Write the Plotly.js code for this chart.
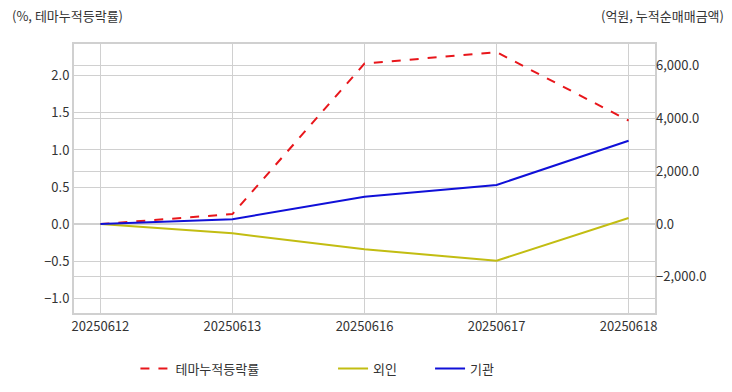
<!DOCTYPE html>
<html>
<head>
<meta charset="utf-8">
<script src="https://cdn.plot.ly/plotly-3.0.1.min.js"></script>
<style>html,body{margin:0;padding:0;background:#fff;}#chart{width:732px;height:392px;}</style>
</head>
<body>
<div id="chart"></div>
<script>
const dates = ['20250612', '20250613', '20250616', '20250617', '20250618'];
const themeRate = [0.0, 0.135, 2.166, 2.32, 1.396];
const foreign = [0, -353, -960, -1393, 228];
const institution = [0, 178, 1036, 1480, 3161];

const FONT = '"Noto Sans CJK KR", "Noto Sans", sans-serif';

const traces = [
  {x: dates, y: themeRate, name: '테마누적등락률', type: 'scatter', mode: 'lines',
   line: {color: '#e8161b', width: 2, dash: 'dash'}, yaxis: 'y', legend: 'legend'},
  {x: dates, y: foreign, name: '외인', type: 'scatter', mode: 'lines',
   line: {color: '#c2bd12', width: 2}, yaxis: 'y2', legend: 'legend2'},
  {x: dates, y: institution, name: '기관', type: 'scatter', mode: 'lines',
   line: {color: '#1010d8', width: 2}, yaxis: 'y2', legend: 'legend2'}
];

const layout = {
  width: 732, height: 392,
  margin: {l: 74, r: 77, t: 44, b: 79},
  paper_bgcolor: '#fff', plot_bgcolor: '#fff',
  font: {family: FONT, size: 13, color: '#333'},
  showlegend: true,
  xaxis: {
    type: 'category', range: [-0.2, 4.2],
    showgrid: true, gridcolor: '#d0d0d0', gridwidth: 1,
    showline: true, linecolor: '#d0d0d0', linewidth: 2, mirror: true,
    ticks: '', tickfont: {family: FONT, size: 13, color: '#333'}, zeroline: false,
    automargin: false
  },
  yaxis: {
    range: [-1.2, 2.43], dtick: 0.5, tick0: 0, tickformat: '.1f',
    showgrid: true, gridcolor: '#d0d0d0', gridwidth: 1,
    showline: true, linecolor: '#d0d0d0', linewidth: 2, mirror: true,
    zeroline: false, ticks: '', tickfont: {family: FONT, size: 13, color: '#333'},
    automargin: false
  },
  yaxis2: {
    overlaying: 'y', side: 'right',
    range: [-3378, 6831], dtick: 2000, tick0: 0, tickformat: ',.1f',
    showgrid: true, gridcolor: '#d0d0d0', gridwidth: 1,
    zeroline: false, ticks: '', tickfont: {family: FONT, size: 13, color: '#333'},
    automargin: false
  },
  legend: {
    orientation: 'h', xref: 'container', yref: 'container',
    x: 0.185, xanchor: 'left', y: 0.098, yanchor: 'top',
    font: {family: FONT, size: 13, color: '#333'}, bgcolor: 'rgba(0,0,0,0)'
  },
  legend2: {
    orientation: 'h', xref: 'container', yref: 'container',
    x: 0.455, xanchor: 'left', y: 0.098, yanchor: 'top', entrywidth: 52,
    font: {family: FONT, size: 13, color: '#333'}, bgcolor: 'rgba(0,0,0,0)'
  },
  annotations: [
    {text: '(%, 테마누적등락률)', xref: 'paper', yref: 'paper', x: -0.11, y: 1.0,
     xanchor: 'left', yanchor: 'bottom', yshift: 17, showarrow: false,
     font: {family: FONT, size: 13, color: '#333'}},
    {text: '(억원, 누적순매매금액)', xref: 'paper', yref: 'paper', x: 1.122, y: 1.0,
     xanchor: 'right', yanchor: 'bottom', yshift: 17, showarrow: false,
     font: {family: FONT, size: 13, color: '#333'}}
  ]
};

Plotly.newPlot('chart', traces, layout, {displayModeBar: false, staticPlot: true});
</script>
</body>
</html>
